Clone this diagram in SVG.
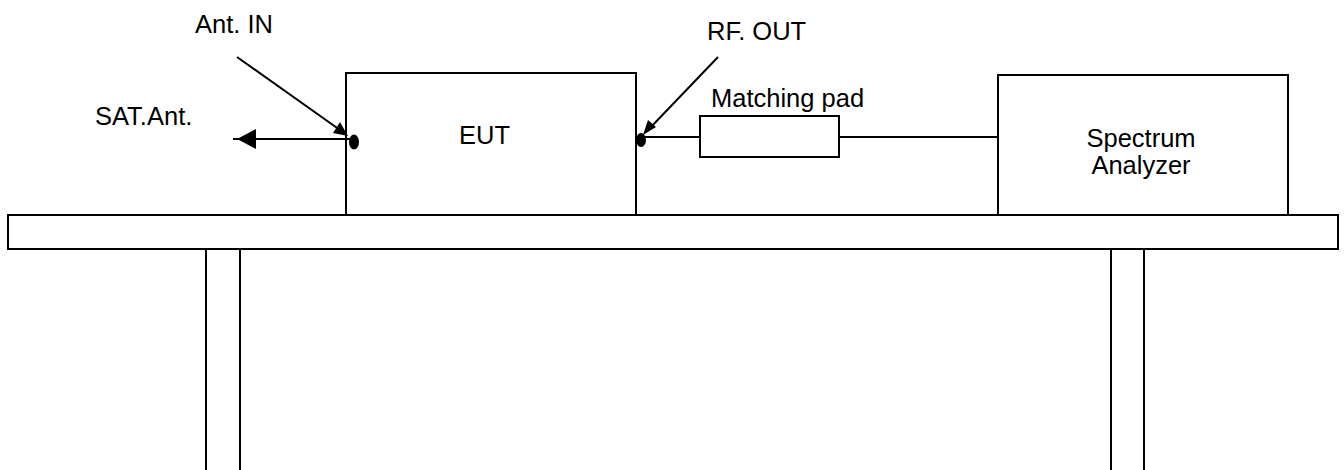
<svg xmlns="http://www.w3.org/2000/svg" width="1344" height="470" viewBox="0 0 1344 470">
<style>
.box{fill:#fff;stroke:#000;stroke-width:2}
.ln{fill:none;stroke:#000;stroke-width:2}
.t{font-family:"Liberation Sans",Arial,sans-serif;font-size:25.5px;fill:#000}
</style>
<defs>
<marker id="ah" markerWidth="10" markerHeight="10" refX="9" refY="5" orient="auto" markerUnits="userSpaceOnUse" viewBox="0 0 10 10">
<path d="M0,0 L10,5 L0,10 z" fill="#000"/>
</marker>
</defs>
<rect width="1344" height="470" fill="#fff"/>
<g id="leg-left"><rect class="box" x="206" y="249" width="34" height="240"/></g>
<g id="leg-right"><rect class="box" x="1111" y="247" width="33" height="240"/></g>
<g id="table"><rect class="box" x="8" y="215" width="1330" height="34"/></g>
<g id="eut"><rect class="box" x="346" y="73" width="290" height="142"/><text class="t" x="459" y="144">EUT</text></g>
<g id="spectrum-analyzer"><rect class="box" x="998" y="75" width="290" height="140"/><text class="t" x="1141" y="147" text-anchor="middle">Spectrum</text><text class="t" x="1141" y="174" text-anchor="middle">Analyzer</text></g>
<g id="matching-pad"><rect class="box" x="700" y="116" width="139" height="41"/><text class="t" x="711" y="107">Matching pad</text></g>
<g id="labels">
<text class="t" x="195" y="33">Ant. IN</text>
<text class="t" x="95" y="125">SAT.Ant.</text>
<text class="t" x="707" y="40">RF. OUT</text>
</g>
<g id="connectors">
<line class="ln" x1="641" y1="137" x2="700" y2="137"/>
<line class="ln" x1="839" y1="137" x2="998" y2="137"/>
<line class="ln" x1="352" y1="139" x2="233" y2="139"/>
<polygon points="237,139 256,129 256,149" fill="#000"/>
<line class="ln" x1="237" y1="57" x2="340" y2="130"/>
<polygon points="348,136 333,133 340,122" fill="#000" transform="rotate(0)"/>
<line class="ln" x1="718" y1="57" x2="650" y2="128"/>
<polygon points="643,135 648,120 656,127" fill="#000"/>
<ellipse cx="354" cy="142" rx="5" ry="7.5" fill="#000"/>
<ellipse cx="641" cy="140" rx="5" ry="7" fill="#000"/>
</g>
</svg>
